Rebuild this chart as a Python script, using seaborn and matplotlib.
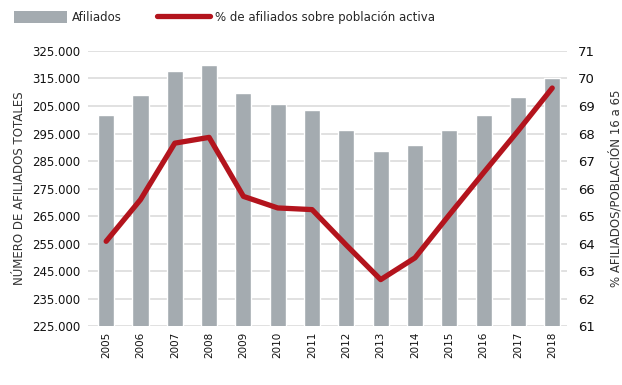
import numpy as np
import pandas as pd
import seaborn as sns
from matplotlib import pyplot as plt
from matplotlib.patches import Patch
from matplotlib.lines import Line2D

years = [str(y) for y in range(2005, 2019)]
afiliados = [301800, 308800, 317500, 319900, 309700, 305700, 303400,
             296300, 288500, 290900, 296300, 301800, 308400, 315300]
pct_activa = [64.09, 65.6, 67.65, 67.86, 65.72, 65.3, 65.24,
              63.95, 62.7, 63.49, 65.05, 66.58, 68.09, 69.65]
left_ticks = [225000, 235000, 245000, 255000, 265000, 275000,
              285000, 295000, 305000, 315000, 325000]
left_labels = ["225.000", "235.000", "245.000", "255.000", "265.000", "275.000",
               "285.000", "295.000", "205.000", "315.000", "325.000"]
right_ticks = list(range(61, 72))

df = pd.DataFrame({"year": years, "afiliados": afiliados, "pct": pct_activa,
                   "pos": np.arange(len(years))})

sns.set_style("white")
plt.rcParams["font.family"] = ["DejaVu Sans Condensed", "DejaVu Sans"]

bar_color = "#a4abb0"
line_color = "#b3141d"

fig, ax = plt.subplots(figsize=(6.22, 3.85), dpi=100)
fig.subplots_adjust(left=0.142, right=0.911, top=0.868, bottom=0.152)

sns.barplot(data=df, x="year", y="afiliados", color=bar_color, width=0.47,
            saturation=1, ax=ax, zorder=2)
ax.set_ylim(225000, 325000)
ax.set_xlim(-0.52, 13.42)
ax.set_yticks(left_ticks)
ax.set_yticklabels(left_labels)
ax.yaxis.grid(True, color="#dcdcdc", linewidth=1.2, zorder=0)
ax.set_axisbelow(True)
ax.tick_params(axis="y", length=0, labelsize=8.5, pad=6, labelcolor="#111111")
ax.tick_params(axis="x", length=0, labelsize=7.5, rotation=90, pad=4, labelcolor="#111111")
ax.set_xlabel("")
ax.set_ylabel("NÚMERO DE AFILIADOS TOTALES", fontsize=8.5, color="#333333", labelpad=4)
for s in ax.spines.values():
    s.set_visible(False)

ax2 = ax.twinx()
sns.lineplot(data=df, x="pos", y="pct", color=line_color, linewidth=3.8, ax=ax2,
             solid_joinstyle="round", solid_capstyle="round")
ax2.set_ylim(61, 71)
ax2.set_xlim(-0.52, 13.42)
ax2.set_yticks(right_ticks)
ax2.tick_params(axis="y", length=0, labelsize=9.5, pad=8, labelcolor="#111111")
ax2.set_ylabel("% AFILIADOS/POBLACIÓN 16 a 65", fontsize=8.5, color="#333333", labelpad=10)
ax2.set_xlabel("")
for s in ax2.spines.values():
    s.set_visible(False)

handles = [Patch(facecolor=bar_color, edgecolor="none"),
           Line2D([0], [0], color=line_color, linewidth=3.8)]
fig.legend(handles, ["Afiliados", "% de afiliados sobre población activa"],
           loc="upper left", bbox_to_anchor=(0.005, 1.0), ncol=2, frameon=False,
           fontsize=8.5, handlelength=4.5, handleheight=1.3, columnspacing=3,
           handletextpad=0.4)

fig.savefig("out.png", dpi=100)
